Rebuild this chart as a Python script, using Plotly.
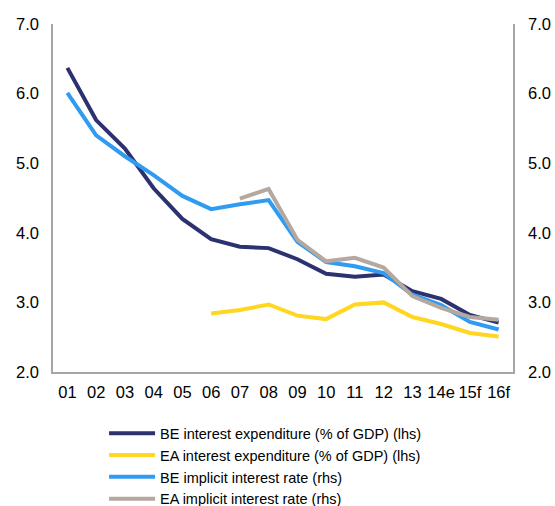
import plotly.graph_objects as go

# category labels (years)
years = ['01', '02', '03', '04', '05', '06', '07', '08', '09', '10',
         '11', '12', '13', '14e', '15f', '16f']

# lhs series (% of GDP)
be_interest_exp = [6.37, 5.62, 5.21, 4.64, 4.20, 3.91, 3.80, 3.78, 3.62, 3.41,
                   3.37, 3.40, 3.16, 3.05, 2.82, 2.71]
ea_interest_exp = [None, None, None, None, None, 2.84, 2.89, 2.97, 2.81, 2.76,
                   2.97, 3.00, 2.79, 2.69, 2.56, 2.51]

# rhs series (implicit interest rate)
be_implicit_rate = [6.01, 5.40, 5.10, 4.83, 4.53, 4.34, 4.41, 4.47, 3.87, 3.58,
                    3.52, 3.42, 3.11, 2.96, 2.72, 2.61]
ea_implicit_rate = [None, None, None, None, None, None, 4.49, 4.63, 3.90, 3.59,
                    3.64, 3.50, 3.09, 2.92, 2.79, 2.75]

font_family = "Liberation Sans, Arial, sans-serif"

fig = go.Figure()

# lhs
fig.add_trace(go.Scatter(x=years, y=be_interest_exp, mode='lines',
                         name='BE interest expenditure (% of GDP) (lhs)',
                         line=dict(color='#2C3170', width=4)))
fig.add_trace(go.Scatter(x=years, y=ea_interest_exp, mode='lines',
                         name='EA interest expenditure (% of GDP) (lhs)',
                         line=dict(color='#FFD620', width=4)))
# rhs
fig.add_trace(go.Scatter(x=years, y=be_implicit_rate, mode='lines', yaxis='y2',
                         name='BE implicit interest rate (rhs)',
                         line=dict(color='#2F9CF2', width=4)))
fig.add_trace(go.Scatter(x=years, y=ea_implicit_rate, mode='lines', yaxis='y2',
                         name='EA implicit interest rate (rhs)',
                         line=dict(color='#B4A8A0', width=4)))

axis_common = dict(range=[2, 7], dtick=1, tickformat='.1f', showgrid=False,
                   zeroline=False, showline=True, linecolor='#A6A6A6',
                   linewidth=1.5, ticks='', automargin=False,
                   tickfont=dict(size=16.5, color='black'))

fig.update_layout(
    width=555, height=506,
    margin=dict(l=53, r=42, t=24, b=134, autoexpand=False),
    plot_bgcolor='white', paper_bgcolor='white',
    font=dict(family=font_family, color='black'),
    xaxis=dict(showgrid=False, showline=True, linecolor='#A6A6A6', linewidth=1.5,
               range=[-0.5, 15.5], ticks='', automargin=False, ticklabelstandoff=4,
               tickfont=dict(size=16.5, color='black'), tickangle=0),
    yaxis=dict(**axis_common, ticklabelstandoff=9),
    yaxis2=dict(**axis_common, overlaying='y', side='right', ticklabelstandoff=10),
    showlegend=True,
    legend=dict(orientation='v', x=0.111, xanchor='left', y=-0.130, yanchor='top',
                font=dict(size=14.5, color='black'), tracegroupgap=0,
                itemwidth=46, bgcolor='rgba(0,0,0,0)'),
)

# drop the default 8px page margin so the figure fills the window
fig.write_html("out.html",
               config={'displayModeBar': False},
               post_script="document.body.style.margin='0';"
                           "document.body.style.overflow='hidden';")
